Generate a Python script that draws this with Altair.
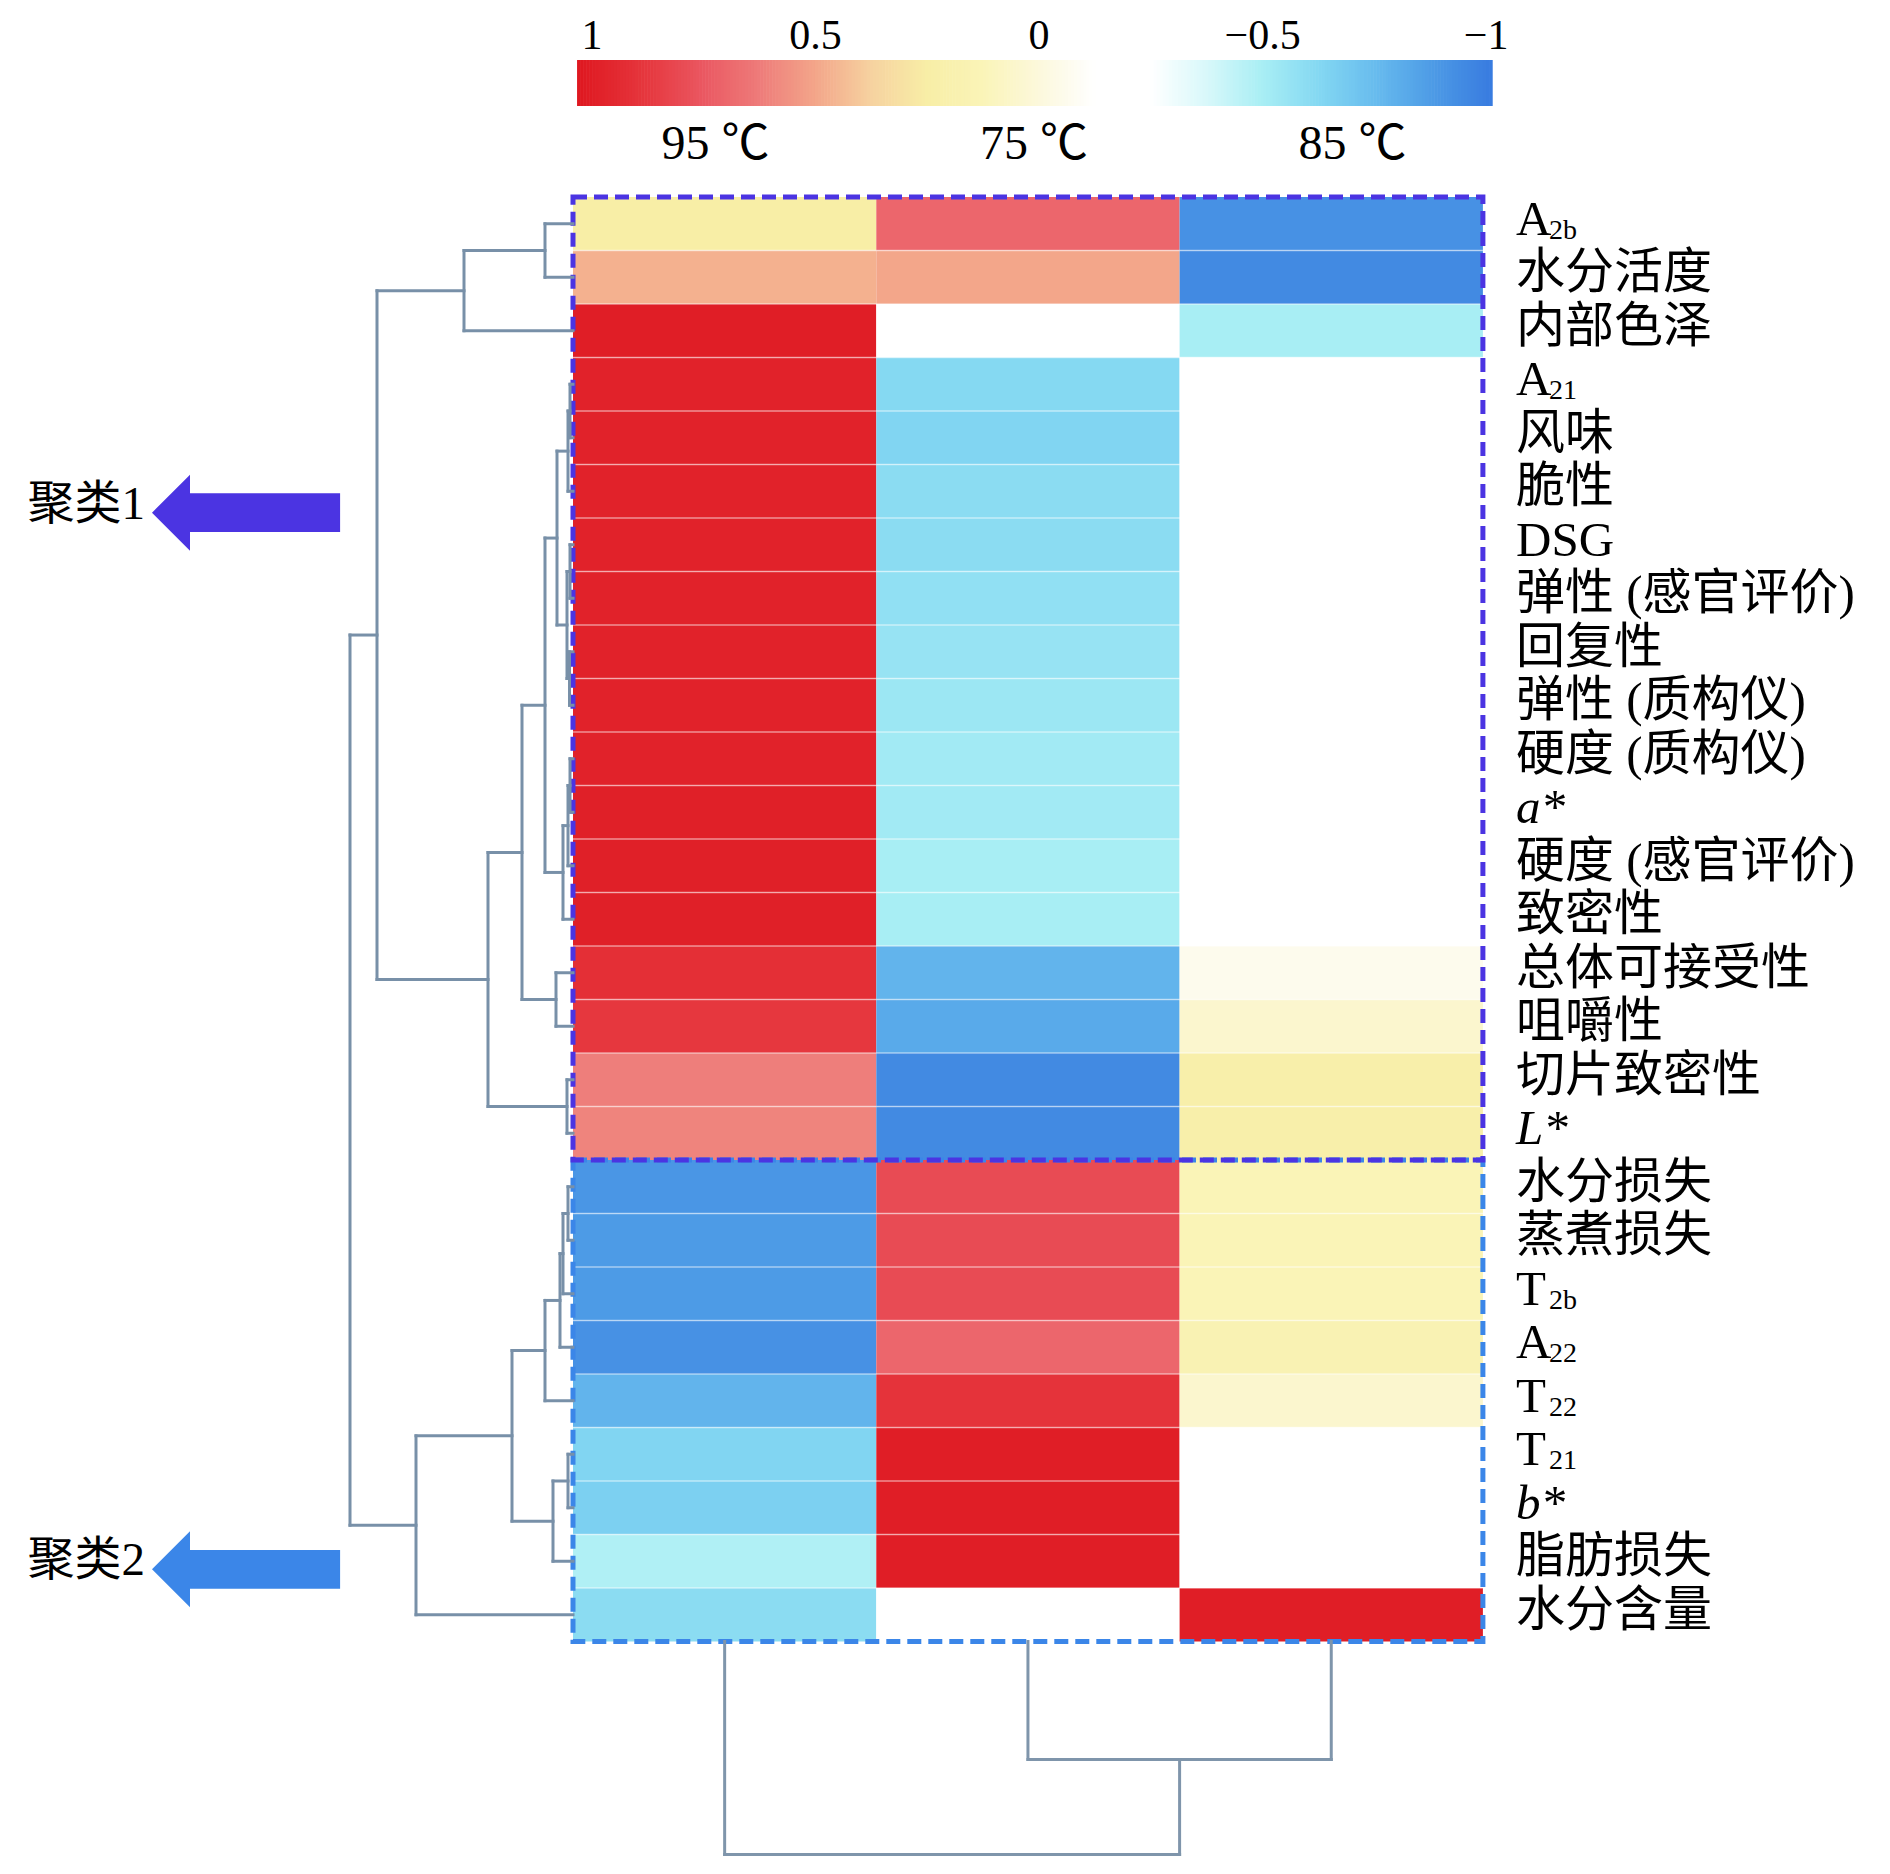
import altair as alt
import numpy as np
import pandas as pd

# ---------------- data ----------------
row_main = ["A", "水分活度", "内部色泽", "A", "风味", "脆性", "DSG", "弹性 (感官评价)",
            "回复性", "弹性 (质构仪)", "硬度 (质构仪)", "a*", "硬度 (感官评价)", "致密性",
            "总体可接受性", "咀嚼性", "切片致密性", "L*", "水分损失", "蒸煮损失", "T", "A",
            "T", "T", "b*", "脂肪损失", "水分含量"]
row_sub = ["2b", "", "", "21", "", "", "", "", "", "", "", "", "", "", "", "", "", "",
           "", "", "2b", "22", "22", "21", "", "", ""]

columns = ["95 ℃", "75 ℃", "85 ℃"]

v95 = [0.25, 0.47, 1.0, 0.98, 0.98, 0.98, 0.98, 0.98, 0.98, 0.98, 0.98, 0.99, 0.99, 0.99,
       0.92, 0.88, 0.62, 0.6, -0.9, -0.88, -0.88, -0.92, -0.78, -0.64, -0.66, -0.48, -0.6]
v75 = [0.7, 0.5, -0.2, -0.62, -0.64, -0.6, -0.6, -0.58, -0.56, -0.54, -0.52, -0.52, -0.5,
       -0.5, -0.78, -0.82, -0.95, -0.95, 0.8, 0.8, 0.8, 0.7, 0.9, 1.0, 1.0, 1.0, -0.2]
v85 = [-0.92, -0.95, -0.5, -0.2, -0.2, -0.2, -0.2, -0.2, -0.2, -0.2, -0.2, -0.2, -0.2, -0.2,
       -0.06, 0.05, 0.22, 0.22, 0.13, 0.13, 0.13, 0.16, 0.05, -0.2, -0.2, -0.2, 1.0]

cb_ticks = [1, 0.5, 0, -0.5, -1]
cb_tick_labels = ["1", "0.5", "0", "−0.5", "−1"]

# row linkage: (child a, child b, height); leaves 0..26, new nodes 27..
row_merges = [
    (0, 1, 2.8), (27, 2, 10.9),
    (3, 4, 0.3), (29, 5, 0.5), (6, 7, 0.3), (8, 9, 0.35), (31, 32, 0.6), (30, 33, 1.6),
    (10, 11, 0.3), (35, 12, 0.5), (36, 13, 1.0), (34, 37, 2.8), (14, 15, 1.7),
    (38, 39, 5.1), (16, 17, 0.6), (40, 41, 8.5), (28, 42, 19.6),
    (18, 19, 0.5), (44, 20, 1.0), (45, 21, 1.3), (46, 22, 2.8), (23, 24, 0.5),
    (48, 25, 2.0), (47, 49, 6.1), (50, 26, 15.7), (43, 51, 22.3),
]
# column linkage
col_merges = [(1, 2, 11.8), (0, 3, 21.3)]

clusters = ["聚类1", "聚类2"]
cluster_rows = [(0, 18), (18, 27)]
cluster_colors = ["#4b34e2", "#3b86e8"]
cluster_label_rows = [5.9, 25.65]

# ---------------- layout ----------------
W, H = 1874, 1858
CELL_W, ROW_H = 303.3, 53.5
HEAT_LEFT, HEAT_TOP = 573 - 8, 197 - 8   # inside plot area
XMIN, XMAX = -HEAT_LEFT / CELL_W, (W - HEAT_LEFT) / CELL_W
YMIN, YMAX = -HEAT_TOP / ROW_H, (H - HEAT_TOP) / ROW_H
KX = 10 / CELL_W   # linkage unit -> column units
KY = 10 / ROW_H    # linkage unit -> row units
NR, NC = len(row_main), len(columns)

FONT = "Liberation Serif, Noto Sans CJK SC"

xscale = alt.Scale(domain=[XMIN, XMAX], nice=False, zero=False)
yscale = alt.Scale(domain=[YMIN, YMAX], nice=False, zero=False, reverse=True)


def X(f):
    return alt.X(f, type="quantitative", scale=xscale, axis=None)


def Y(f):
    return alt.Y(f, type="quantitative", scale=yscale, axis=None)


# evenly spaced colour stops (step 0.125), following the reference colour bar
cscale = alt.Scale(
    domain=[-1.0, -0.875, -0.75, -0.625, -0.5, -0.375, -0.25, -0.125, 0.0,
            0.125, 0.25, 0.375, 0.5, 0.625, 0.75, 0.875, 1.0],
    range=["#3a7ee0", "#4e9ce6", "#68bcee", "#84d8f2", "#a8eef4", "#d8f8fa", "#ffffff",
           "#ffffff", "#fcf8dc", "#faf4b8", "#f8eea6", "#f6d2a0", "#f3a68a", "#ee7c7a",
           "#ea5862", "#e6383f", "#e01e26"],
    interpolate="rgb",
)

# heatmap
vals = [v95, v75, v85]
heat_rows = []
for c in range(NC):
    for r in range(NR):
        heat_rows.append(dict(x=c, x2=c + 1, y=r, y2=r + 1, v=vals[c][r]))
heat_df = pd.DataFrame(heat_rows)

heat = alt.Chart(heat_df).mark_rect().encode(
    x=X("x"), x2="x2", y=Y("y"), y2="y2",
    color=alt.Color("v:Q", scale=cscale, legend=None),
)

sep_df = pd.DataFrame([dict(y=r, x=0, x2=NC) for r in range(1, NR) if r != 18])
seps = alt.Chart(sep_df).mark_rule(color="white", strokeWidth=1.5, opacity=0.5).encode(
    x=X("x"), x2="x2", y=Y("y"))

box_df = pd.DataFrame([dict(x=0, x2=NC, y=a, y2=b, c=col)
                       for (a, b), col in zip(cluster_rows, cluster_colors)][::-1])
boxes = alt.Chart(box_df).mark_rect(fillOpacity=0, strokeWidth=5, strokeDash=[14, 7]).encode(
    x=X("x"), x2="x2", y=Y("y"), y2="y2", stroke=alt.Stroke("c:N", scale=None))


def dendro(merges, n, leaf_pos):
    pos = {i: leaf_pos[i] for i in range(n)}
    hgt = {i: 0.0 for i in range(n)}
    segs = []
    for k, (a, b, h) in enumerate(merges):
        segs.append(dict(h1=h, h2=h, p1=pos[a], p2=pos[b]))
        segs.append(dict(h1=h, h2=hgt[a], p1=pos[a], p2=pos[a]))
        segs.append(dict(h1=h, h2=hgt[b], p1=pos[b], p2=pos[b]))
        pos[n + k] = (pos[a] + pos[b]) / 2
        hgt[n + k] = h
    return pd.DataFrame(segs)


ld = dendro(row_merges, NR, [r + 0.5 for r in range(NR)])
ld["x"] = -ld["h1"] * KX
ld["x2"] = -ld["h2"] * KX
ld["y"] = ld["p1"]
ld["y2"] = ld["p2"]
left_dend = alt.Chart(ld).mark_rule(color="#7890a8", strokeWidth=3, strokeCap="square").encode(
    x=X("x"), x2="x2", y=Y("y"), y2="y2")

bd = dendro(col_merges, NC, [c + 0.5 for c in range(NC)])
bd["x"] = bd["p1"]
bd["x2"] = bd["p2"]
bd["y"] = NR + bd["h1"] * KY
bd["y2"] = NR + bd["h2"] * KY
bot_dend = alt.Chart(bd).mark_rule(color="#7f95ab", strokeWidth=3, strokeCap="square").encode(
    x=X("x"), x2="x2", y=Y("y"), y2="y2")

# colorbar
CB_LEFT, CB_SPAN = 0.0626, 2.948
CB_TOP, CB_BOT = (60 - 197) / ROW_H, (106 - 197) / ROW_H


def cb_x(v):
    return CB_LEFT + (1 - v) / 2 * CB_SPAN


samples = np.linspace(1.03, -1.01, 300)
step = (samples[0] - samples[1]) / 2 * CB_SPAN
cb_df = pd.DataFrame(dict(v=samples, x=[cb_x(s) - step / 2 for s in samples],
                          x2=[cb_x(s) + step / 2 + 0.002 for s in samples]))
cb_df["y"] = CB_TOP
cb_df["y2"] = CB_BOT
cbar = alt.Chart(cb_df).mark_rect().encode(
    x=X("x"), x2="x2", y=Y("y"), y2="y2",
    color=alt.Color("v:Q", scale=cscale, legend=None))

tick_df = pd.DataFrame(dict(x=[cb_x(v) for v in cb_ticks], t=cb_tick_labels))
tick_df["y"] = (36 - 197) / ROW_H
ticks = alt.Chart(tick_df).mark_text(font=FONT, fontSize=42, baseline="middle", align="center",
                                     color="black").encode(x=X("x"), y=Y("y"), text="t:N")

HEADER_SPREAD, HEADER_SHIFT = 1.05, 0.02
colhead_df = pd.DataFrame(dict(x=[NC / 2 + HEADER_SHIFT + (c - (NC - 1) / 2) * HEADER_SPREAD
                                  for c in range(NC)], t=columns))
colhead_df["y"] = (145 - 197) / ROW_H
colheads = alt.Chart(colhead_df).mark_text(font=FONT, fontSize=48, baseline="middle",
                                           align="center", color="black").encode(
    x=X("x"), y=Y("y"), text="t:N")

# row labels
LABEL_X = (1516 - 573) / CELL_W
lab_df = pd.DataFrame(dict(y=[r + 0.5 for r in range(NR)], main=row_main, sub=row_sub))
lab_df["x"] = LABEL_X
lab_df["italic"] = lab_df["main"].str.endswith("*")
lab_base = alt.Chart(lab_df)
labels = lab_base.mark_text(font=FONT, fontSize=49, align="left", baseline="middle", dy=-4,
                            color="black").encode(x=X("x"), y=Y("y"), text="main:N"
                            ).transform_filter("!datum.italic")
labels_it = lab_base.mark_text(font=FONT, fontSize=49, align="left", baseline="middle", dy=-4,
                               fontStyle="italic", color="black").encode(
    x=X("x"), y=Y("y"), text="main:N").transform_filter("datum.italic")
subs = lab_base.mark_text(font=FONT, fontSize=28, align="left", baseline="middle", dx=33, dy=7,
                          color="black").encode(x=X("x"), y=Y("y"), text="sub:N"
                          ).transform_filter("datum.sub != ''")

# cluster arrows
ARROW = "M-1,0L0,-1L0,-0.51L3.95,-0.51L3.95,0.51L0,0.51L0,1Z"
arr_df = pd.DataFrame(dict(t=clusters, y=cluster_label_rows, c=cluster_colors))
arr_df["xa"] = (190 - 573) / CELL_W
arr_df["xt"] = (145 - 573) / CELL_W
arrows = alt.Chart(arr_df).mark_point(shape=ARROW, filled=True, size=5776, opacity=1,
                                      strokeWidth=0).encode(
    x=X("xa"), y=Y("y"), fill=alt.Fill("c:N", scale=None))
arrow_txt = alt.Chart(arr_df).mark_text(font=FONT, fontSize=47, align="right", baseline="middle",
                                        dy=-8, color="black").encode(
    x=X("xt"), y=Y("y"), text="t:N")

chart = alt.layer(
    heat, seps, boxes, left_dend, bot_dend, cbar, ticks, colheads,
    labels, labels_it, subs, arrows, arrow_txt,
).properties(
    width=W, height=H, autosize=alt.AutoSizeParams(type="none"), padding=0,
    background="white",
).configure_view(stroke=None)

chart.save("out.html", embed_options={"renderer": "svg", "actions": False})
